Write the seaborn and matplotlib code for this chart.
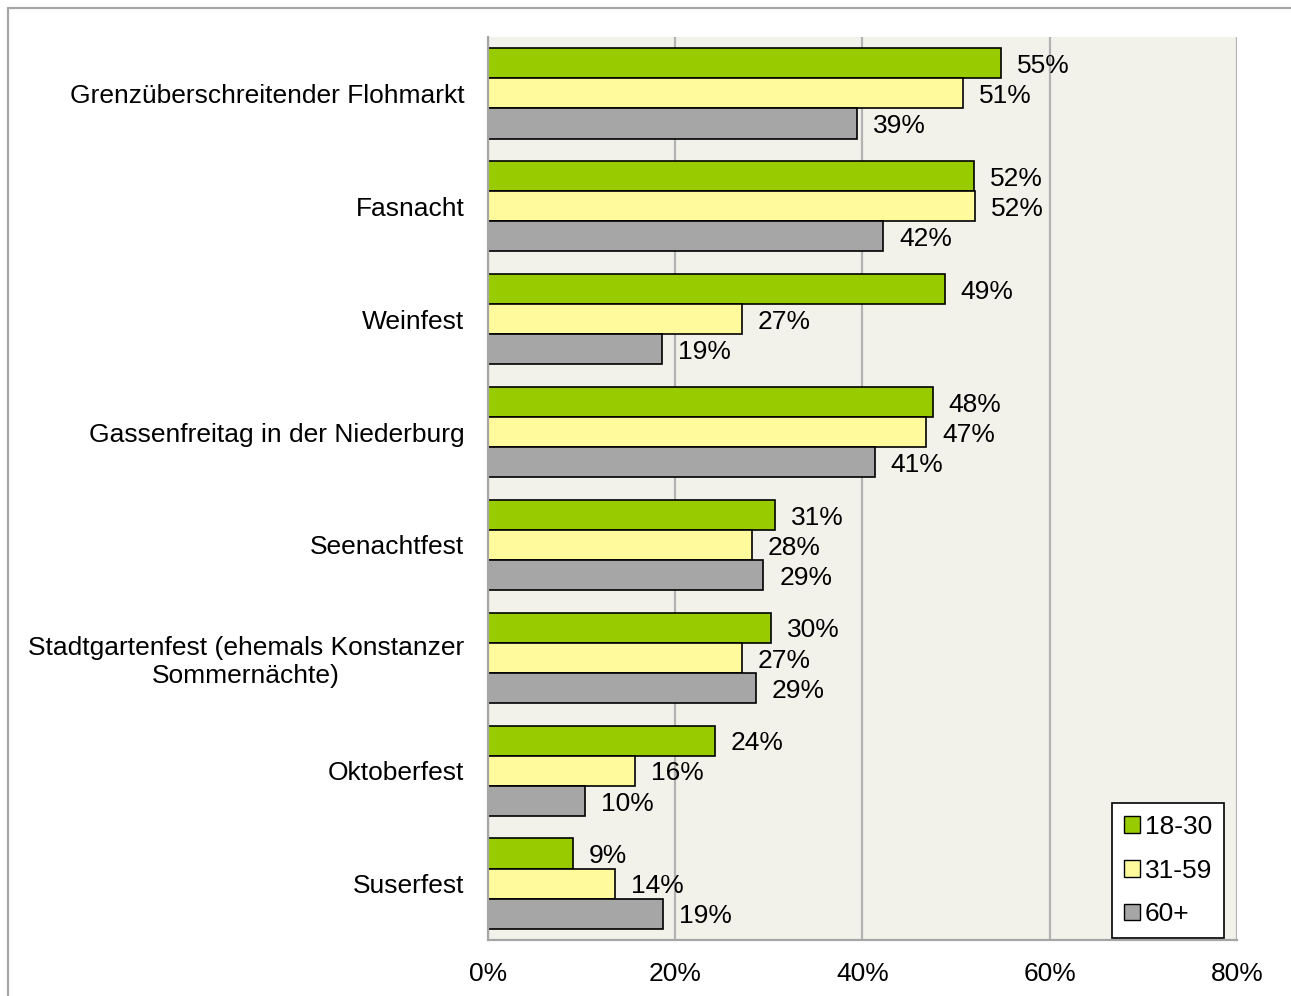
import matplotlib
matplotlib.use("Agg")
import matplotlib.pyplot as plt
from matplotlib.lines import Line2D
from matplotlib.patches import Patch
import numpy as np
import pandas as pd
import seaborn as sns

# values (percent)
events = [
    "Grenzüberschreitender Flohmarkt",
    "Fasnacht",
    "Weinfest",
    "Gassenfreitag in der Niederburg",
    "Seenachtfest",
    "Stadtgartenfest (ehemals Konstanzer\nSommernächte)",
    "Oktoberfest",
    "Suserfest",
]
age_groups = ["18-30", "31-59", "60+"]
share_18_30 = [54.8, 51.9, 48.8, 47.5, 30.7, 30.2, 24.2, 9.1]
share_31_59 = [50.8, 52.0, 27.1, 46.8, 28.2, 27.1, 15.7, 13.6]
share_60 = [39.4, 42.2, 18.6, 41.3, 29.4, 28.6, 10.4, 18.7]
x_ticks = [0, 20, 40, 60, 80]
colors = ["#99CC00", "#FFFA9C", "#A6A6A6"]

df = pd.DataFrame({
    "event": events * 3,
    "group": [g for g in age_groups for _ in events],
    "share": share_18_30 + share_31_59 + share_60,
})

sns.set_style("white")
plt.rcParams["font.family"] = ["Liberation Sans", "DejaVu Sans"]
plt.rcParams["text.color"] = "black"
plt.rcParams["xtick.labelcolor"] = "black"
plt.rcParams["ytick.labelcolor"] = "black"
FS = 19

fig = plt.figure(figsize=(12.91, 9.96), dpi=100)
ax = fig.add_axes([0.378, 0.0562, 0.580, 0.9067])

sns.barplot(data=df, y="event", x="share", hue="group", order=events,
            hue_order=age_groups, palette=colors, orient="h", width=0.8,
            edgecolor="black", linewidth=1.2, saturation=1, legend=False, ax=ax)

ax.set_facecolor("#F2F1EA")
ax.set_xlim(0, 80)
ax.set_ylim(7.5, -0.5)
ax.set_xticks(x_ticks)
ax.set_xticklabels([f"{t}%" for t in x_ticks])
ax.set_xlabel("")
ax.set_ylabel("")
ax.grid(axis="x", color="#B3B3B3", linewidth=1.6)
ax.set_axisbelow(True)

for sp in ["top", "right"]:
    ax.spines[sp].set_visible(False)
for sp in ["left", "bottom"]:
    ax.spines[sp].set_color("#A6A6A6")
    ax.spines[sp].set_linewidth(1.6)

ax.set_yticks(np.arange(-0.5, 8.0, 1.0), minor=True)
ax.tick_params(axis="y", which="major", length=0, pad=17, labelsize=FS)
ax.tick_params(axis="y", which="minor", length=5, width=1.6, color="#A6A6A6")
ax.tick_params(axis="x", which="major", length=5, width=1.6, color="#A6A6A6",
               pad=11, labelsize=FS)
for lab in ax.get_yticklabels():
    lab.set_multialignment("center")

for c in ax.containers:
    for ann in ax.bar_label(c, fmt="%.0f%%", padding=11, fontsize=FS, color="black"):
        ann.xyann = (11.5, -2)

handles = [Patch(facecolor=col, edgecolor="black", linewidth=1.0) for col in colors]
leg = ax.legend(handles, age_groups, loc="lower right", bbox_to_anchor=(0.983, 0.002),
                borderaxespad=0, fontsize=FS, handlelength=0.6, handleheight=0.6,
                handletextpad=0.2, labelspacing=0.75, frameon=True, fancybox=False,
                framealpha=1, borderpad=0.45)
leg.get_frame().set_edgecolor("black")
leg.get_frame().set_linewidth(1.2)

# outer chart frame (top and left edges visible)
fig.add_artist(Line2D([8 / 1291, 1.0], [1 - 8 / 996, 1 - 8 / 996],
                      transform=fig.transFigure, color="#A6A6A6", linewidth=1.6))
fig.add_artist(Line2D([8 / 1291, 8 / 1291], [0.0, 1 - 8 / 996],
                      transform=fig.transFigure, color="#A6A6A6", linewidth=1.6))

fig.savefig("out.png", dpi=100)
plt.close(fig)
